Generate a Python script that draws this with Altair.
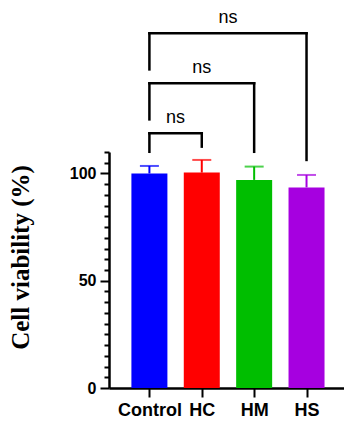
import altair as alt
import pandas as pd

# ---- data ----
groups = ["Control", "HC", "HM", "HS"]
viability = [100.0, 100.4, 97.0, 93.5]
sd = [3.5, 5.9, 6.2, 5.8]
colors = ["#0000FF", "#FF0000", "#00BE00", "#A600E0"]

# significance comparisons (group indices) and their bracket heights (in % units)
cmp_left = [0, 0, 0]
cmp_right = [1, 2, 3]
cmp_label = ["ns", "ns", "ns"]
bracket_top = [118.7, 142.0, 165.3]
bracket_left_end = [110.1, 125.2, 148.5]
bracket_right_end = [112.5, 110.1, 106.3]
label_base = [123.7, 147.0, 170.3]

y_ticks = list(range(0, 111, 5))

# ---- tables ----
bars = pd.DataFrame({
    "group": groups,
    "pos": list(range(len(groups))),
    "value": viability,
    "top": [v + s for v, s in zip(viability, sd)],
})

seg_rows = []
for l, r, t, le, re_ in zip(cmp_left, cmp_right, bracket_top, bracket_left_end, bracket_right_end):
    seg_rows.append({"x": l, "x2": l, "y": le, "y2": t})
    seg_rows.append({"x": l, "x2": r, "y": t, "y2": t})
    seg_rows.append({"x": r, "x2": r, "y": re_, "y2": t})
segs = pd.DataFrame(seg_rows)

labels = pd.DataFrame({
    "x": [(l + r) / 2 for l, r in zip(cmp_left, cmp_right)],
    "y": label_base,
    "text": cmp_label,
})

xscale = alt.Scale(domain=[-0.676, 3.62], nice=False, zero=False)
yscale = alt.Scale(domain=[0, 110], nice=False)
cscale = alt.Scale(domain=groups, range=colors)

label_expr = "[" + ",".join("'%s'" % g for g in groups) + "][datum.value]"

x_axis = alt.Axis(
    values=list(range(len(groups))), labelExpr=label_expr, title=None, grid=False,
    domainColor="black", domainWidth=2.5, tickColor="black", tickWidth=2, tickSize=9,
    labelFont="Liberation Sans", labelFontWeight="bold", labelFontSize=18,
    labelColor="black", labelPadding=4, labelAngle=0, labelOverlap=False,
)
y_axis = alt.Axis(
    values=y_ticks,
    labelExpr="datum.value % 50 === 0 ? datum.label : ''",
    labelOverlap=False,
    title="Cell viability (%)", grid=False,
    domainColor="black", domainWidth=2.5, tickColor="black", tickWidth=2,
    tickSize={"condition": {"test": "datum.value % 50 === 0", "value": 9}, "value": 5},
    labelFont="Liberation Sans", labelFontWeight="bold", labelFontSize=16,
    labelColor="black", labelPadding=4,
    titleFont="Liberation Serif", titleFontWeight="bold", titleFontSize=25,
    titleColor="black", titleAngle=270, titleAlign="center", titleBaseline="alphabetic",
    titleX=-81, titleY=105,
)


def X(field):
    return alt.X(field, type="quantitative", scale=xscale, axis=x_axis)


def Y(field):
    return alt.Y(field, type="quantitative", scale=yscale, axis=y_axis)


bar_layer = alt.Chart(bars).mark_bar(size=36).encode(
    x=X("pos"), y=Y("value"), y2=alt.Y2(datum=0),
    color=alt.Color("group:N", scale=cscale, legend=None),
)

err_layer = alt.Chart(bars).mark_rule(strokeWidth=2).encode(
    x=X("pos"), y=Y("value"), y2="top:Q",
    color=alt.Color("group:N", scale=cscale, legend=None),
)

cap_layer = alt.Chart(bars).mark_tick(orient="horizontal", size=19, thickness=2).encode(
    x=X("pos"), y=Y("top"),
    color=alt.Color("group:N", scale=cscale, legend=None),
)

seg_layer = alt.Chart(segs).mark_rule(strokeWidth=2.5, color="black", strokeCap="square").encode(
    x=X("x"), x2="x2:Q", y=Y("y"), y2="y2:Q",
)

text_layer = alt.Chart(labels).mark_text(
    font="Liberation Sans", fontSize=18, color="black", baseline="alphabetic", align="center"
).encode(x=X("x"), y=Y("y"), text="text:N")

chart = alt.layer(bar_layer, err_layer, cap_layer, seg_layer, text_layer).properties(
    width=235, height=236,
    background="white",
    autosize=alt.AutoSizeParams(type="none"),
    padding={"left": 109, "top": 152, "right": 0, "bottom": 33},
).configure_view(strokeWidth=0)

chart.save("out.html", embed_options={"renderer": "svg", "actions": False})
